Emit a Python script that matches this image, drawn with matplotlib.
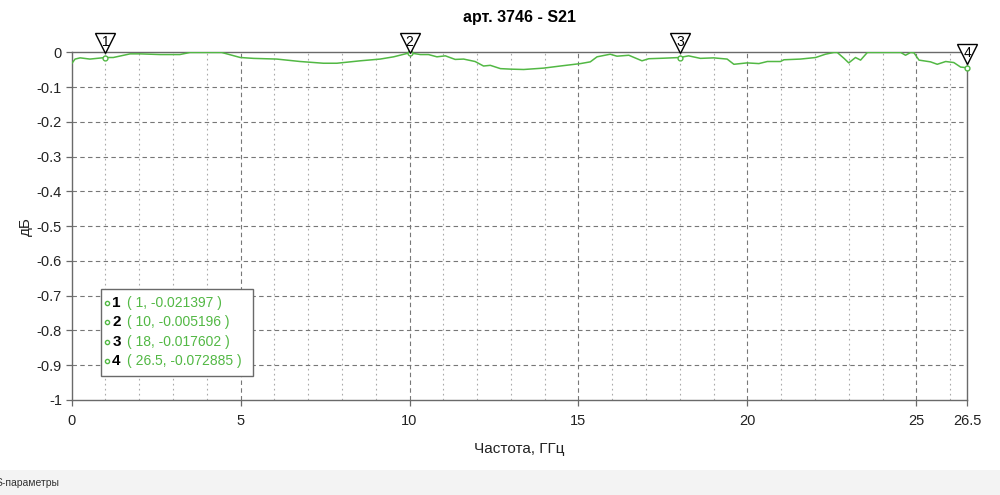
import numpy as np
import matplotlib.pyplot as plt
import matplotlib.transforms as mtransforms
from matplotlib.patches import Rectangle

plt.rcParams["font.family"] = ["Liberation Sans", "DejaVu Sans"]

# S21 trace (GHz, dB); values above 0 are clipped by the chart
freq = [0.0, 0.1, 0.25, 0.54, 1.0, 1.23, 1.73, 2.02, 2.62, 3.2, 3.5, 4.44, 4.99,
        5.38, 6.07, 6.76, 7.45, 7.85, 8.54, 9.13, 9.53, 10.0, 10.32, 10.56,
        10.81, 11.06, 11.35, 11.6, 11.94, 12.19, 12.39, 12.69, 13.0, 13.38,
        13.97, 14.46, 15.06, 15.35, 15.55, 15.94, 16.14, 16.49, 16.88, 17.08,
        17.52, 18.0, 18.26, 18.61, 19.0, 19.4, 19.6, 19.99, 20.34, 20.59,
        20.98, 21.08, 21.57, 22.02, 22.31, 22.56, 22.66, 22.86, 23.0, 23.2,
        23.35, 23.55, 24.54, 24.68, 24.83, 24.93, 25.08, 25.42, 25.62, 25.87,
        26.11, 26.31, 26.5]
s21 = [-0.032, -0.019, -0.0155, -0.019, -0.0145, -0.0145, -0.004, -0.004,
       -0.006, -0.006, 0.0, 0.0, -0.0145, -0.017, -0.019, -0.026, -0.031,
       -0.031, -0.024, -0.019, -0.0125, -0.001, -0.006, -0.006, -0.0125,
       -0.0097, -0.020, -0.019, -0.026, -0.039, -0.037, -0.0465, -0.048,
       -0.049, -0.045, -0.039, -0.032, -0.027, -0.0125, -0.005, -0.0107,
       -0.008, -0.024, -0.018, -0.0165, -0.0145, -0.0097, -0.017, -0.0155,
       -0.019, -0.034, -0.030, -0.032, -0.026, -0.026, -0.021, -0.019,
       -0.0145, -0.005, 0.0, 0.0, -0.017, -0.030, -0.0145, -0.022, 0.0, 0.0,
       -0.008, 0.0, -0.001, -0.022, -0.027, -0.034, -0.026, -0.029, -0.042,
       -0.044]

marker_ids = ["1", "2", "3", "4"]
marker_freq = [1, 10, 18, 26.5]
marker_text = ["( 1, -0.021397 )", "( 10, -0.005196 )", "( 18, -0.017602 )",
               "( 26.5, -0.072885 )"]

xticks = [0, 5, 10, 15, 20, 25, 26.5]
xticklabels = ["0", "5", "10", "15", "20", "25", "26.5"]
yticks = [0, -0.1, -0.2, -0.3, -0.4, -0.5, -0.6, -0.7, -0.8, -0.9, -1]
yticklabels = ["0", "-0.1", "-0.2", "-0.3", "-0.4", "-0.5", "-0.6", "-0.7",
               "-0.8", "-0.9", "-1"]

green = "#52b844"
frame = "#6a6a6a"

fig = plt.figure(figsize=(10, 4.95), dpi=100)
ax = fig.add_axes([0.0717, 0.192, 0.8953, 0.702])

# grid
for x in np.arange(1, 26.5, 1):
    if x % 5 == 0:
        ax.axvline(x, color="#777777", lw=0.8, ls=(0, (4, 3)), zorder=1)
    else:
        ax.axvline(x, color="#aaaaaa", lw=0.8, ls=(0, (1.5, 3)), zorder=1)
for y in yticks[1:-1]:
    ax.axhline(y, color="#777777", lw=0.8, ls=(0, (4, 3)), zorder=1)

ax.plot(freq, s21, color=green, lw=1.1, zorder=3)

ax.set_xlim(0, 26.5)
ax.set_ylim(-1, 0)
ax.set_xticks(xticks)
ax.set_xticklabels(xticklabels)
ax.set_yticks(yticks)
ax.set_yticklabels(yticklabels)
ax.tick_params(labelsize=10.5, color=frame, length=4, width=0.9, pad=3,
               labelcolor="#222222")
ax.tick_params(axis="x", pad=6)
for s in ax.spines.values():
    s.set_color(frame)
    s.set_linewidth(1.0)

ax.set_title("арт. 3746 - S21", fontsize=11.5, fontweight="bold", pad=22)
ax.set_xlabel("Частота, ГГц", fontsize=11, labelpad=10, color="#222222")
ax.set_ylabel("дБ", fontsize=11, labelpad=3, color="#222222")

# markers on the trace with triangle flags above
marker_val = np.interp(marker_freq, freq, s21)
ax.plot(marker_freq, marker_val, "o", ms=3.5, mfc="white", mec=green,
        mew=1.0, zorder=5, clip_on=False)
for mid, mx, my in zip(marker_ids, marker_freq, marker_val):
    tip = min(my + 0.013, 0.0)
    off = mtransforms.offset_copy(ax.transData, fig=fig, x=0, y=7.0, units="points")
    ax.plot([mx], [tip], marker="v", ms=14, mfc="white", mec="black",
            mew=1.0, transform=off, clip_on=False, zorder=6)
    off_t = mtransforms.offset_copy(ax.transData, fig=fig, x=0, y=7.6, units="points")
    ax.text(mx, tip, mid, transform=off_t, ha="center", va="center",
            fontsize=10, zorder=7, clip_on=False)

# marker readout box
ax.add_patch(Rectangle((0.87, -0.932), 4.5, 0.25, facecolor="white",
                       edgecolor=frame, lw=1.0, zorder=8))
rows_y = [-0.72, -0.776, -0.832, -0.888]
for mid, txt, ry in zip(marker_ids, marker_text, rows_y):
    ax.plot([1.05], [ry], "o", ms=3, mfc="white", mec=green, mew=1.0, zorder=9)
    ax.text(1.2, ry, mid, fontsize=11, fontweight="bold", va="center",
            color="black", zorder=9)
    ax.text(1.64, ry, txt, fontsize=10, va="center", color=green, zorder=9)

# status strip at the bottom
fig.patches.append(Rectangle((0, 0), 1, 25 / 495, transform=fig.transFigure,
                             facecolor="#f3f3f3", edgecolor="none", zorder=0))
fig.text(-0.004, 12 / 495, "S-параметры", fontsize=7.5, va="center",
         color="#333333")

fig.savefig("out.png", dpi=100)
